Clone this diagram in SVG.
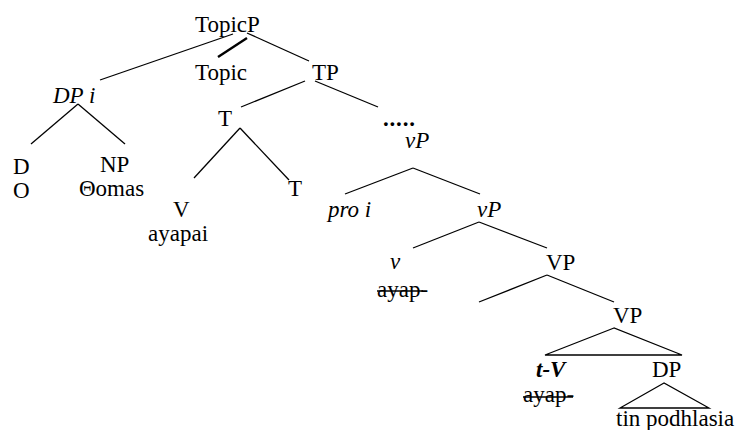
<svg xmlns="http://www.w3.org/2000/svg" width="736" height="430" viewBox="0 0 736 430">
<style>
text{font-size:23px;fill:#000}
.it{font-style:italic}
.bi{font-style:italic;font-weight:bold}
.b{font-weight:bold}
.e{stroke:#000;stroke-width:1.3;fill:none}
.thick{stroke-width:2.4}
.strike{stroke:#000;stroke-width:1.3}
</style>
<rect width="736" height="430" fill="#fff"/>
<g id="connectors">
<line class="e" x1="233" y1="34" x2="100" y2="80"/>
<line class="e thick" x1="247" y1="38" x2="218" y2="57"/>
<line class="e" x1="247" y1="33" x2="309" y2="61"/>
<line class="e" x1="78" y1="104" x2="31" y2="144"/>
<line class="e" x1="78" y1="104" x2="125" y2="144"/>
<line class="e" x1="305" y1="81" x2="241" y2="107"/>
<line class="e" x1="315" y1="81" x2="378" y2="107"/>
<line class="e" x1="240" y1="128" x2="194" y2="178"/>
<line class="e" x1="240" y1="128" x2="289" y2="180"/>
<line class="e" x1="413" y1="168" x2="345" y2="194"/>
<line class="e" x1="413" y1="168" x2="480" y2="194"/>
<line class="e" x1="479" y1="222" x2="413" y2="248"/>
<line class="e" x1="479" y1="222" x2="547" y2="248"/>
<line class="e" x1="547" y1="275" x2="479" y2="302"/>
<line class="e" x1="547" y1="275" x2="614" y2="302"/>
<polygon class="e" points="614,328 545,355 682,355"/>
<polygon class="e" points="664,383 620,408 709,408"/>
</g>
<g font-family="Liberation Serif, serif">
<g id="n-topicp"><text x="195" y="32">TopicP</text></g>
<g id="n-topic"><text x="195" y="80">Topic</text></g>
<g id="n-tp"><text x="312" y="80">TP</text></g>
<g id="n-dpi"><text class="it" x="53" y="103">DP i</text></g>
<g id="n-d"><text x="13" y="174">D</text><text x="13" y="198">O</text></g>
<g id="n-np"><text x="100" y="172">NP</text><text x="79" y="196">Θomas</text></g>
<g id="n-t1"><text x="218" y="126">T</text></g>
<g id="n-t2"><text x="288" y="196">T</text></g>
<g id="n-v"><text x="173" y="217">V</text><text x="148" y="241">ayapai</text></g>
<g id="n-dots"><text class="b" x="383" y="126" letter-spacing="0.8">.....</text></g>
<g id="n-vp1"><text class="it" x="405" y="148">vP</text></g>
<g id="n-proi"><text class="it" x="328" y="217">pro i</text></g>
<g id="n-vp2"><text class="it" x="477" y="217">vP</text></g>
<g id="n-vsmall"><text class="it" x="390" y="269">v</text><text x="377" y="297">ayap-</text><line class="strike" x1="377" y1="291" x2="423" y2="291"/></g>
<g id="n-VP1"><text x="546" y="270">VP</text></g>
<g id="n-VP2"><text x="613" y="323">VP</text></g>
<g id="n-tv"><text class="bi" x="536" y="377">t-V</text><text x="523" y="402">ayap-</text><line class="strike" x1="523" y1="397" x2="573" y2="397"/></g>
<g id="n-dp"><text x="652" y="377">DP</text><text x="616" y="426">tin podhlasia</text></g>
</g>
</svg>
